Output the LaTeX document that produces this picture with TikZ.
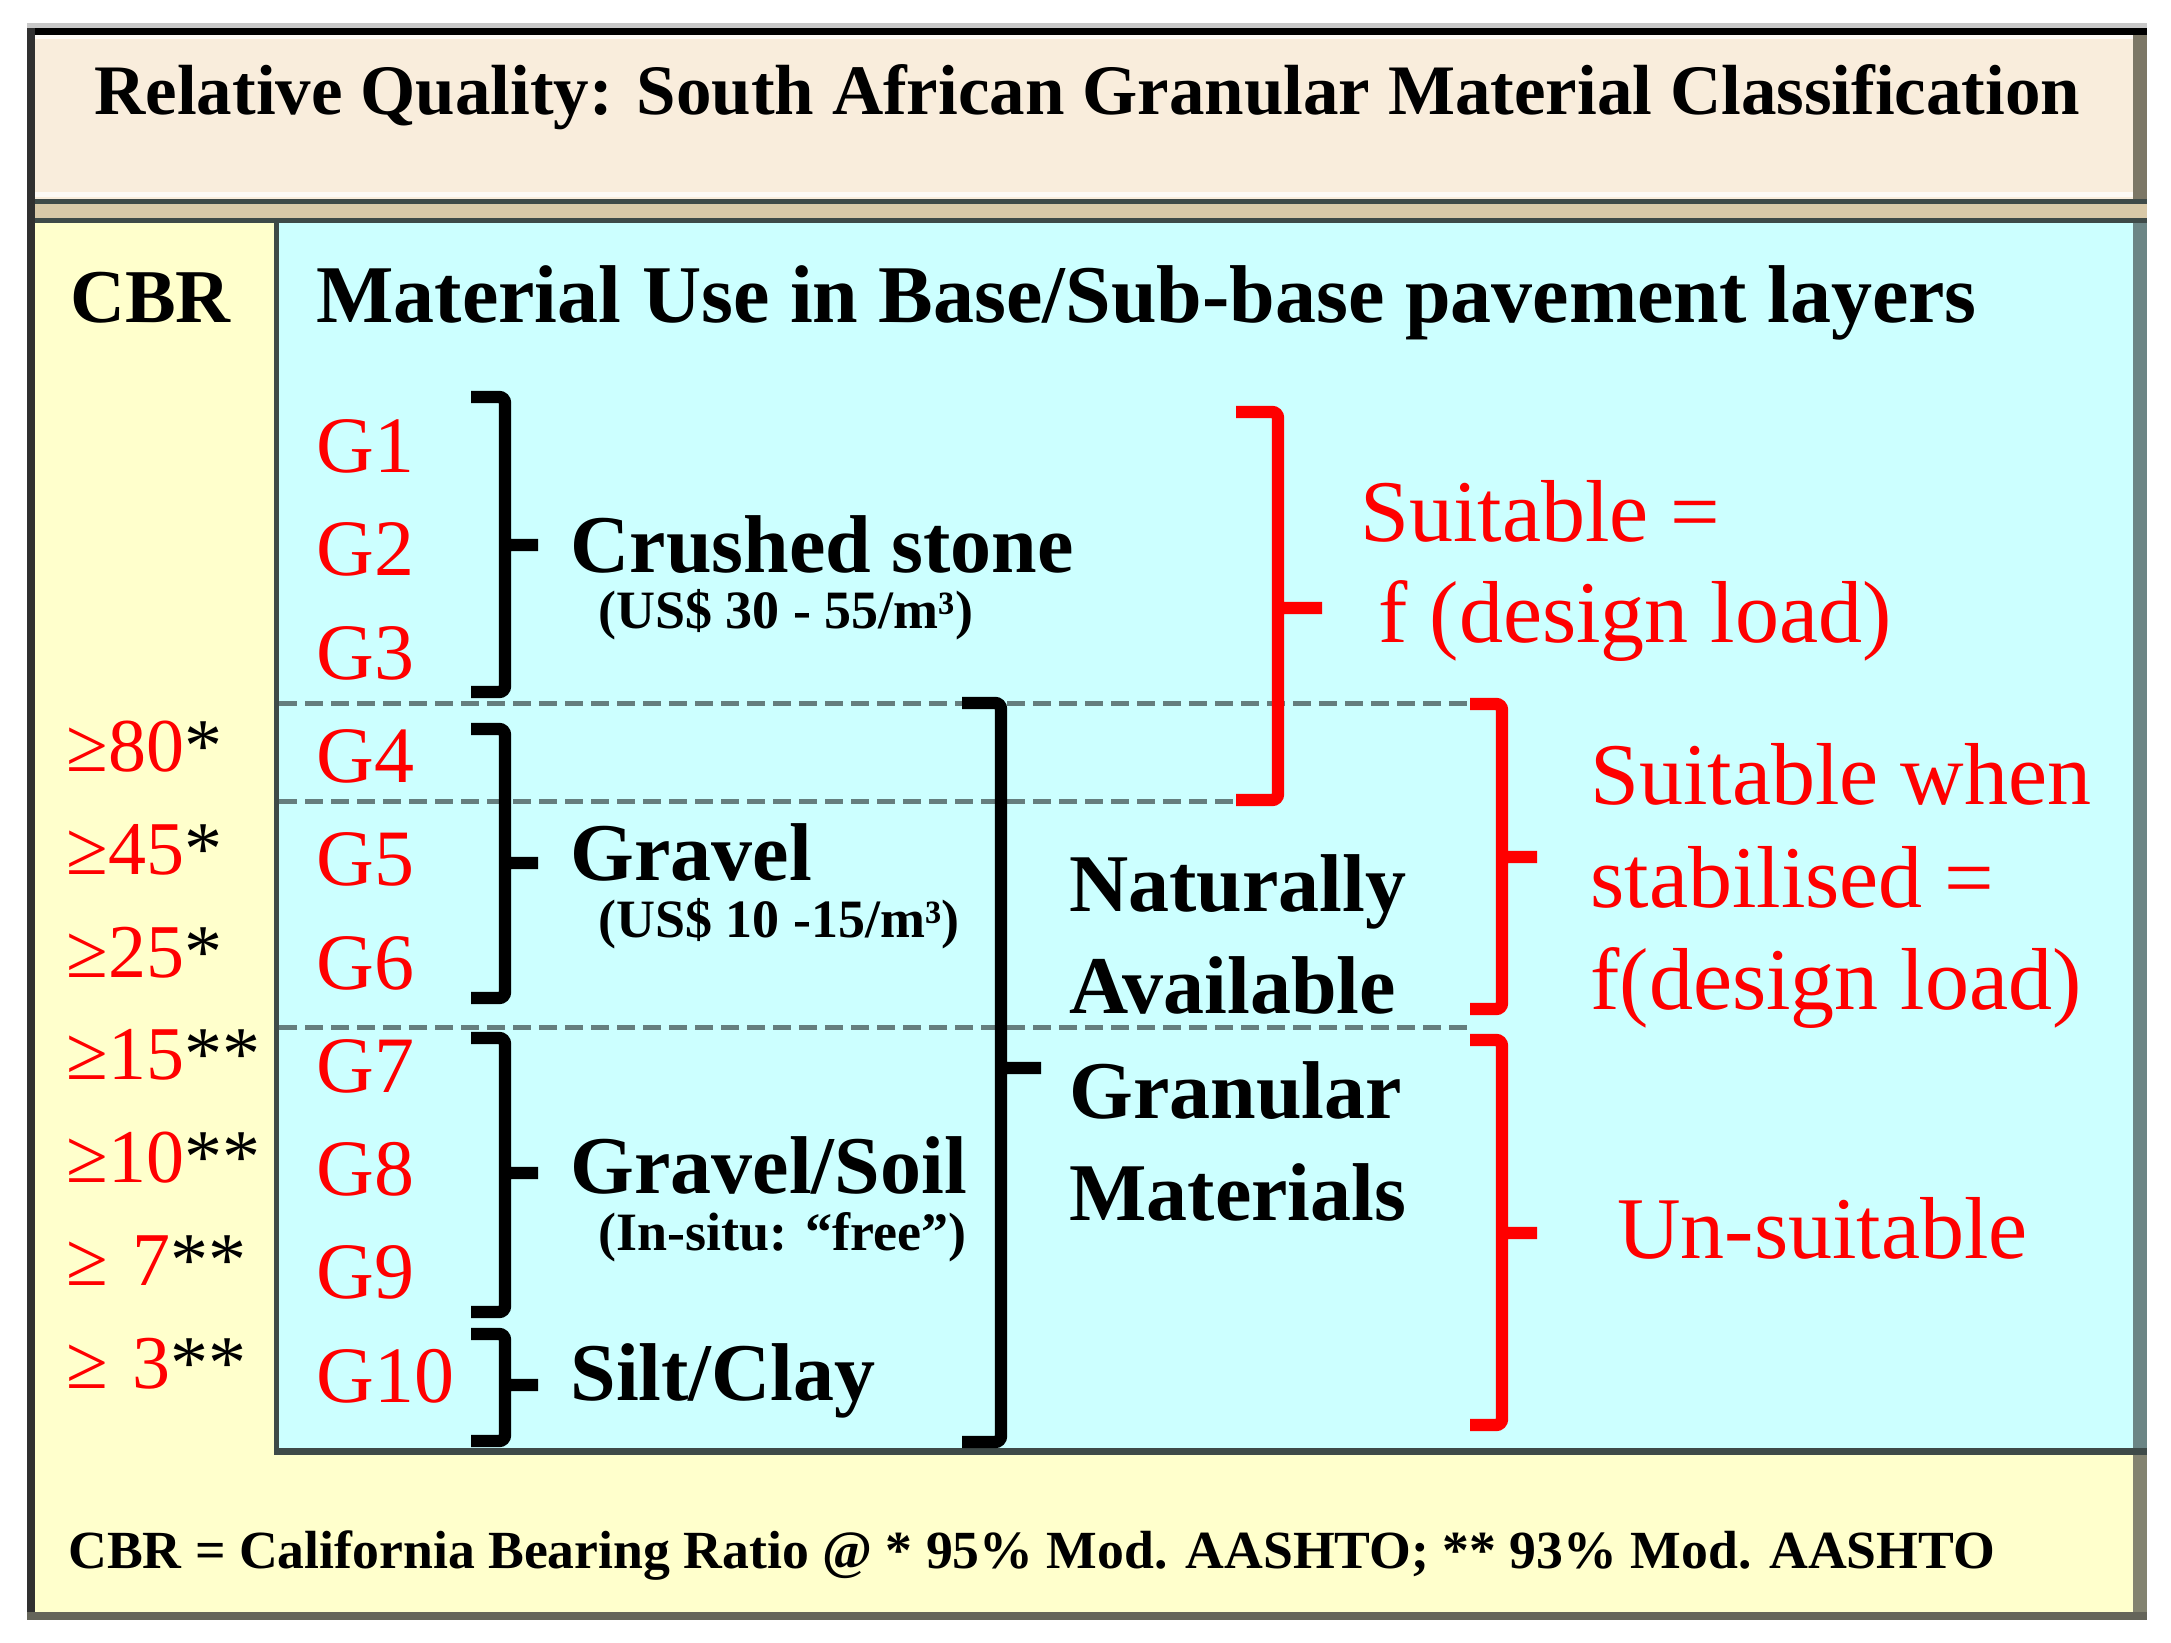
\documentclass[tikz,border=0pt]{standalone}
\usepackage{fontspec}
\setmainfont{Liberation Serif}
\definecolor{cyanbg}{HTML}{CCFFFF}
\definecolor{yellowbg}{HTML}{FFFFCC}
\definecolor{titlebg}{HTML}{F9EDDC}
\definecolor{sepbg}{HTML}{D9C9A8}
\definecolor{darkline}{HTML}{3E4A48}
\definecolor{leftline}{HTML}{303030}
\definecolor{rightA}{HTML}{7C7766}
\definecolor{rightB}{HTML}{6B8585}
\definecolor{rightC}{HTML}{838370}
\definecolor{botline}{HTML}{65655A}
\definecolor{shadowgray}{HTML}{C8C8C8}
\definecolor{divgray}{HTML}{657E7E}
\begin{document}
\begin{tikzpicture}[x=0.5pt,y=-0.5pt,
  txt/.style={inner sep=0pt, anchor=base west},
  blk/.style={txt, font=\fontsize{41}{48}\selectfont\bfseries},
  sub/.style={txt, font=\fontsize{27}{32}\selectfont\bfseries},
  glab/.style={txt, text=red, font=\fontsize{40}{48}\selectfont},
  cbrv/.style={txt, text=red, font=\fontsize{38}{46}\selectfont},
  rlab/.style={txt, text=red, font=\fontsize{44}{52}\selectfont},
  brace/.style={line width=6.2pt, rounded corners=3pt},
  divider/.style={draw=divgray, line width=2.5pt, dash pattern=on 9pt off 4pt},
]
\useasboundingbox (0,0) rectangle (2171,1642);
\fill[white] (0,0) rectangle (2171,1642);
% ---- frame and panels
\fill[shadowgray] (27,23) rectangle (2147,28);
\fill[titlebg] (35,35) rectangle (2133,200);
\fill[white!70!titlebg] (35,35) rectangle (2133,39);
\fill[white!70!titlebg] (35,192) rectangle (2133,197);
\fill[sepbg] (27,200) rectangle (2147,222);
\fill[darkline] (27,199) rectangle (2147,204);
\fill[darkline] (27,218) rectangle (2147,223);
\fill[yellowbg] (35,223) rectangle (2133,1612);
\fill[cyanbg] (277,223) rectangle (2133,1449);
\fill[darkline] (274,223) rectangle (279,1455);
\fill[darkline] (274,1448) rectangle (2147,1455);
\fill[black] (27,28) rectangle (2147,35);
\fill[leftline] (27,28) rectangle (35,1620);
\fill[rightA] (2133,35) rectangle (2147,199);
\fill[rightB] (2133,223) rectangle (2147,1448);
\fill[rightC] (2133,1455) rectangle (2147,1612);
\fill[botline] (27,1612) rectangle (2147,1620);
% ---- titles
\node[txt, font=\fontsize{35.5}{42}\selectfont\bfseries] (title) at (94,115)
  {Relative Quality: South African Granular Material Classification};
\node[txt, font=\fontsize{38}{46}\selectfont\bfseries] (cbrhead) at (70,322) {CBR};
\node[txt, font=\fontsize{41}{48}\selectfont\bfseries] (usehead) at (316,322)
  {Material Use in Base/Sub-base pavement layers};
% ---- dashed dividers
\draw[divider] (279,703) -- (1470,703);
\draw[divider] (279,801) -- (1236,801);
\draw[divider] (279,1027) -- (1470,1027);
% ---- G classes
\foreach \i/\yy in {1/472,2/575,3/679,4/782,5/885,6/989,7/1092,8/1195,9/1298,10/1402}
  \node[glab] (g\i) at (316,\yy) {G\i};
% ---- CBR values
\node[cbrv] (v80) at (66,771) {≥80\textcolor{black}{*}};
\node[cbrv] (v45) at (66,874) {≥45\textcolor{black}{*}};
\node[cbrv] (v25) at (66,977) {≥25\textcolor{black}{*}};
\node[cbrv] (v15) at (66,1079) {≥15\textcolor{black}{**}};
\node[cbrv] (v10) at (66,1182) {≥10\textcolor{black}{**}};
\node[cbrv] (v7) at (66,1285) {≥\hspace{0.32em}7\textcolor{black}{**}};
\node[cbrv] (v3) at (66,1388) {≥\hspace{0.32em}3\textcolor{black}{**}};
% ---- black braces
\draw[brace] (471,397) -- (505,397) -- (505,692) -- (471,692) (505,545) -- (538,545);
\draw[brace] (471,729) -- (505,729) -- (505,998) -- (471,998) (505,863) -- (538,863);
\draw[brace] (471,1038) -- (505,1038) -- (505,1312) -- (471,1312) (505,1173) -- (538,1173);
\draw[brace] (471,1334) -- (505,1334) -- (505,1441) -- (471,1441) (505,1385) -- (538,1385);
\draw[brace] (962,703) -- (1001,703) -- (1001,1442) -- (962,1442) (1001,1068) -- (1041,1068);
% ---- red braces
\draw[brace, red] (1236,412) -- (1278,412) -- (1278,800) -- (1236,800) (1278,608) -- (1322,608);
\draw[brace, red] (1470,704) -- (1502,704) -- (1502,1009) -- (1470,1009) (1502,857) -- (1537,857);
\draw[brace, red] (1470,1040) -- (1502,1040) -- (1502,1425) -- (1470,1425) (1502,1233) -- (1537,1233);
% ---- material groups
\node[blk] (crushed) at (570,572) {Crushed stone};
\node[sub] (crushedc) at (598,628) {(US\$ 30 - 55/m³)};
\node[blk] (gravel) at (570,880) {Gravel};
\node[sub] (gravelc) at (598,937) {(US\$ 10 -15/m³)};
\node[blk] (gsoil) at (570,1193) {Gravel/Soil};
\node[sub] (gsoilc) at (598,1250) {(In-situ: “free”)};
\node[blk] (silt) at (570,1400) {Silt/Clay};
\node[blk] (nat1) at (1069,911) {Naturally};
\node[blk] (nat2) at (1069,1013) {Available};
\node[blk] (nat3) at (1069,1118) {Granular};
\node[blk] (nat4) at (1069,1220) {Materials};
% ---- suitability
\node[rlab] (s1a) at (1360,541) {Suitable =};
\node[rlab] (s1b) at (1378,642) {f (design load)};
\node[rlab] (s2a) at (1590,804) {Suitable when};
\node[rlab] (s2b) at (1590,907) {stabilised =};
\node[rlab] (s2c) at (1590,1009) {f(design load)};
\node[rlab] (s3) at (1617,1258) {Un-suitable};
% ---- footer
\node[txt, font=\fontsize{26.85}{32}\selectfont\bfseries] (foot) at (68,1568)
  {CBR = California Bearing Ratio @ * 95\% Mod. AASHTO; ** 93\% Mod. AASHTO};
\end{tikzpicture}
\end{document}
